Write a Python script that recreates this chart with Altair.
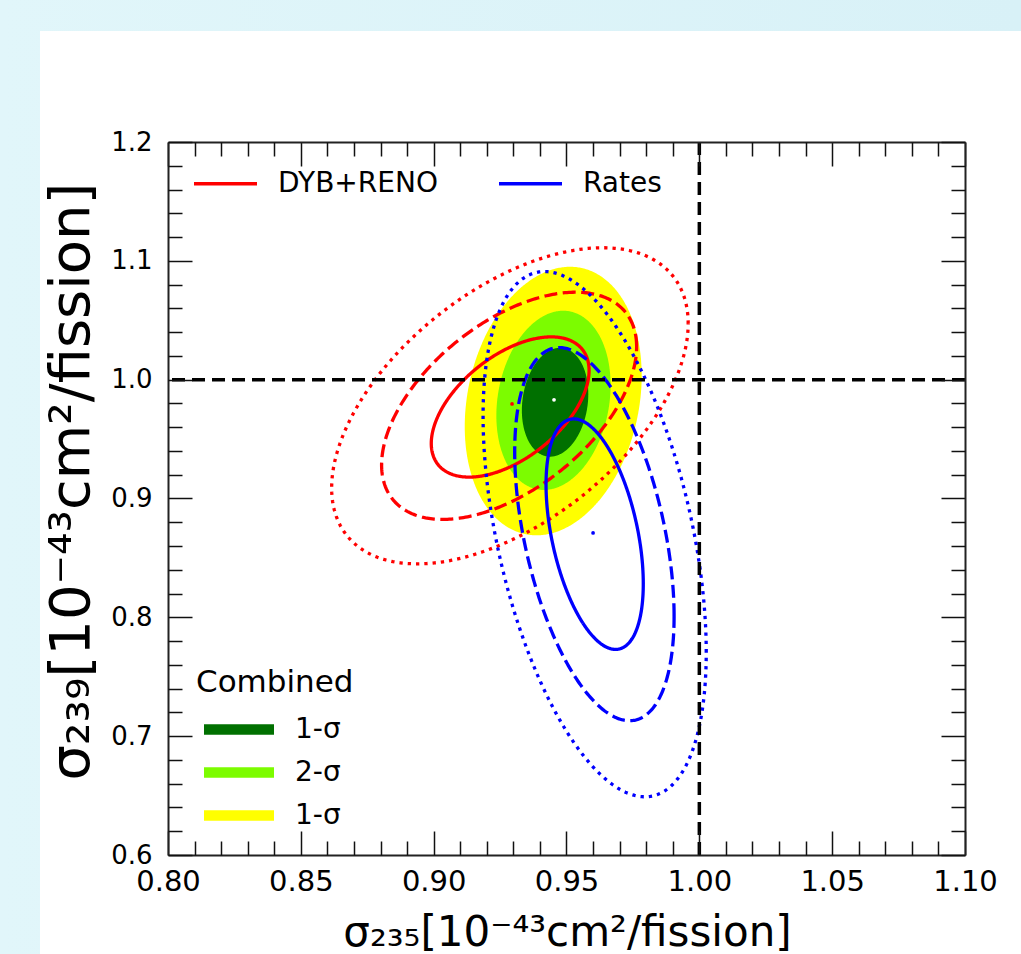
import numpy as np
import pandas as pd
import altair as alt

# ---------------- data ----------------
x_domain = [0.80, 1.10]
y_domain = [0.6, 1.2]
x_major = [0.80, 0.85, 0.90, 0.95, 1.00, 1.05, 1.10]
x_minor = [0.81, 0.82, 0.83, 0.84, 0.86, 0.87, 0.88, 0.89, 0.91, 0.92, 0.93, 0.94,
           0.96, 0.97, 0.98, 0.99, 1.01, 1.02, 1.03, 1.04, 1.06, 1.07, 1.08, 1.09]
y_major = [0.6, 0.7, 0.8, 0.9, 1.0, 1.1, 1.2]
y_minor = [0.62, 0.64, 0.66, 0.68, 0.72, 0.74, 0.76, 0.78, 0.82, 0.84, 0.86, 0.88,
           0.92, 0.94, 0.96, 0.98, 1.02, 1.04, 1.06, 1.08, 1.12, 1.14, 1.16, 1.18]

ref_x = [1.0]
ref_y = [1.0]

# contour ellipses: centre, half extent in x / y, correlation
ell_src = ["DYB+RENO", "DYB+RENO", "DYB+RENO", "Rates", "Rates", "Rates"]
ell_level = ["1σ", "2σ", "3σ", "1σ", "2σ", "3σ"]
ell_cx = [0.9288, 0.9284, 0.9287, 0.9606, 0.9605, 0.9606]
ell_cy = [0.977, 0.978, 0.978, 0.870, 0.870, 0.870]
ell_sx = [0.0297, 0.048, 0.0671, 0.0183, 0.030, 0.042]
ell_sy = [0.059, 0.0956, 0.133, 0.097, 0.157, 0.221]
ell_rho = [0.52, 0.52, 0.52, -0.43, -0.44, -0.45]

comb_level = ["3σ", "2σ", "1σ"]
comb_cx = [0.945, 0.9451, 0.9457]
comb_cy = [0.982, 0.9826, 0.981]
comb_sx = [0.0333, 0.0215, 0.0125]
comb_sy = [0.113, 0.0754, 0.0458]
comb_rho = [0.19, 0.17, 0.15]

bf_x = [0.9295, 0.9453, 0.960]
bf_y = [0.9796, 0.983, 0.871]
bf_col = ["#ff0000", "#ffffff", "#0000ff"]

src_names = ["DYB+RENO", "Rates"]
src_colors = ["#ff0000", "#0000ff"]
lvl_names = ["1σ", "2σ", "3σ"]
lvl_fill = ["#007000", "#7cfc00", "#ffff00"]

# ---------------- build tables ----------------
t = np.linspace(0, 2 * np.pi, 361)
rows = []
for k in range(len(ell_src)):
    r = ell_rho[k]
    xs_ = ell_cx[k] + ell_sx[k] * np.cos(t)
    ys_ = ell_cy[k] + ell_sy[k] * (r * np.cos(t) + np.sqrt(1 - r * r) * np.sin(t))
    for i, (a, b) in enumerate(zip(xs_, ys_)):
        rows.append({"x": a, "y": b, "src": ell_src[k], "level": ell_level[k],
                     "id": f"{ell_src[k]}{ell_level[k]}", "i": i})
line_df = pd.DataFrame(rows)

th = np.linspace(np.pi, 0, 241)
area_rows = []
for k in range(len(comb_level)):
    r = comb_rho[k]
    u = np.cos(th)
    s = np.sqrt(np.clip(1 - u * u, 0, None))
    xx = comb_cx[k] + comb_sx[k] * u
    yh = comb_cy[k] + comb_sy[k] * (r * u + np.sqrt(1 - r * r) * s)
    yl = comb_cy[k] + comb_sy[k] * (r * u - np.sqrt(1 - r * r) * s)
    for a, b, c in zip(xx, yh, yl):
        area_rows.append({"x": a, "yh": b, "yl": c, "level": comb_level[k]})
area_df = pd.DataFrame(area_rows)

# ---------------- layout ----------------
W, H = 797, 713
PL, PT, PR, PB = 168, 142, 56, 99
FONT = "DejaVu Sans"

xs = alt.Scale(domain=x_domain, nice=False, zero=False)
ys = alt.Scale(domain=y_domain, nice=False, zero=False)


def tick_axis(orient, offset, values, size, domain=False):
    return alt.Axis(orient=orient, offset=offset, values=values, ticks=True,
                    tickSize=size, tickWidth=1.5, tickColor="#111",
                    labels=False, domain=domain, domainColor="#222", domainWidth=2,
                    title=None, grid=False, zindex=2)


x_label_axis = alt.Axis(orient="bottom", values=x_major, format=".2f", ticks=False,
                        domain=True, domainColor="#222", domainWidth=2, grid=False,
                        labelFontSize=29, labelPadding=12, labelColor="black",
                        labelFlush=False, labelOverlap=False, labelFont=FONT,
                        title="σ₂₃₅[10⁻⁴³cm²/fission]", titleFontSize=42,
                        titleFontWeight="normal", titleColor="black", titleFont=FONT,
                        titleX=399, titleY=90, titleBaseline="alphabetic",
                        titleAlign="center", zindex=2)
y_label_axis = alt.Axis(orient="left", values=y_major, format=".1f", ticks=False,
                        domain=True, domainColor="#222", domainWidth=2, grid=False,
                        labelFontSize=26, labelPadding=16, labelColor="black",
                        labelFlush=False, labelOverlap=False, labelFont=FONT,
                        title="σ₂₃₉[10⁻⁴³cm²/fission]", titleFontSize=56,
                        titleFontWeight="normal", titleColor="black", titleFont=FONT,
                        titleX=-80, titleY=339, titleBaseline="alphabetic",
                        titleAlign="center", titleAngle=270, zindex=2)

fill_scale = alt.Scale(domain=lvl_names, range=lvl_fill)
fill_legend = alt.Legend(orient="none", legendX=28, legendY=526, title="Combined",
                         titleFontSize=31, titleFontWeight="normal", titleColor="black",
                         titleFont=FONT, titlePadding=9, padding=0,
                         symbolType="M-1,-0.15L1,-0.15L1,0.15L-1,0.15Z",
                         symbolSize=4900, symbolStrokeWidth=0, symbolOffset=8,
                         symbolOpacity=1, clipHeight=43,
                         labelFontSize=28, labelFont=FONT, labelColor="black",
                         labelOffset=21, rowPadding=0, direction="vertical",
                         labelExpr="datum.label == '2σ' ? '2-σ' : '1-σ'")
color_legend = alt.Legend(orient="none", legendX=24, legendY=8, title=None, padding=0,
                          direction="horizontal", columns=2, columnPadding=54,
                          symbolType="stroke", symbolSize=3969, symbolStrokeWidth=3.3,
                          labelFontSize=28, labelFont=FONT, labelColor="black",
                          labelOffset=19)

one = pd.DataFrame({"a": [1]})
bg = alt.Chart(one).mark_rect(
    fill=alt.Gradient(gradient="linear",
                      stops=[alt.GradientStop(color="#e1f6fa", offset=0),
                             alt.GradientStop(color="#d8f1f7", offset=1)],
                      x1=0, x2=1, y1=0, y2=0)
).encode(x=alt.value(-PL), x2=alt.value(W + PR), y=alt.value(-PT), y2=alt.value(H + PB))
panel = alt.Chart(one).mark_rect(fill="white").encode(
    x=alt.value(40 - PL), x2=alt.value(W + PR), y=alt.value(31 - PT), y2=alt.value(H + PB))


def area_layer(level, xaxis, yaxis):
    d = area_df[area_df["level"] == level]
    return alt.Chart(d).mark_area(opacity=1).encode(
        x=alt.X("x:Q", scale=xs, axis=xaxis),
        y=alt.Y("yh:Q", scale=ys, axis=yaxis),
        y2="yl:Q",
        fill=alt.Fill("level:N", scale=fill_scale, legend=fill_legend),
    )


yellow = area_layer("3σ", x_label_axis, y_label_axis)
green = area_layer("2σ", tick_axis("top", -H, x_major, 24), tick_axis("right", -W, y_major, 24))
dgreen = area_layer("1σ", tick_axis("top", -H, x_minor, 14), tick_axis("right", -W, y_minor, 14))

lines = alt.Chart(line_df).mark_line(strokeWidth=3.3).encode(
    x=alt.X("x:Q", scale=xs, axis=tick_axis("bottom", -H, x_major, 24, domain=True)),
    y=alt.Y("y:Q", scale=ys, axis=tick_axis("left", -W, y_major, 24, domain=True)),
    color=alt.Color("src:N", scale=alt.Scale(domain=src_names, range=src_colors),
                    legend=color_legend),
    strokeDash=alt.StrokeDash("level:N",
                              scale=alt.Scale(domain=lvl_names,
                                              range=[[1, 0], [13, 5.5], [3.3, 5]]),
                              legend=None),
    detail="id:N",
    order="i:Q",
)

vline = alt.Chart(pd.DataFrame({"v": ref_x})).mark_rule(
    color="black", strokeWidth=3.5, strokeDash=[13, 7]).encode(
    x=alt.X("v:Q", scale=xs, axis=None))
hline = alt.Chart(pd.DataFrame({"v": ref_y})).mark_rule(
    color="black", strokeWidth=3.5, strokeDash=[13, 7]).encode(
    y=alt.Y("v:Q", scale=ys, axis=None))

pt_layers = []
for k in range(len(bf_x)):
    d = pd.DataFrame({"x": [bf_x[k]], "y": [bf_y[k]]})
    if k == 0:
        xa = tick_axis("bottom", -H, x_minor, 14)
        ya = tick_axis("left", -W, y_minor, 14)
    else:
        xa = None
        ya = None
    pt_layers.append(alt.Chart(d).mark_point(filled=True, size=14, opacity=1,
                                             color=bf_col[k]).encode(
        x=alt.X("x:Q", scale=xs, axis=xa),
        y=alt.Y("y:Q", scale=ys, axis=ya)))

chart = alt.layer(bg, panel, yellow, green, dgreen, lines, vline, hline, *pt_layers).resolve_axis(
    x="independent", y="independent"
).properties(
    width=W, height=H,
    padding={"left": PL, "top": PT, "right": PR, "bottom": PB},
    autosize=alt.AutoSizeParams(type="none"),
    background="#dcf3f8",
).configure_view(stroke=None).configure(font=FONT)

chart.save("out.html", embed_options={"renderer": "svg", "actions": False})
